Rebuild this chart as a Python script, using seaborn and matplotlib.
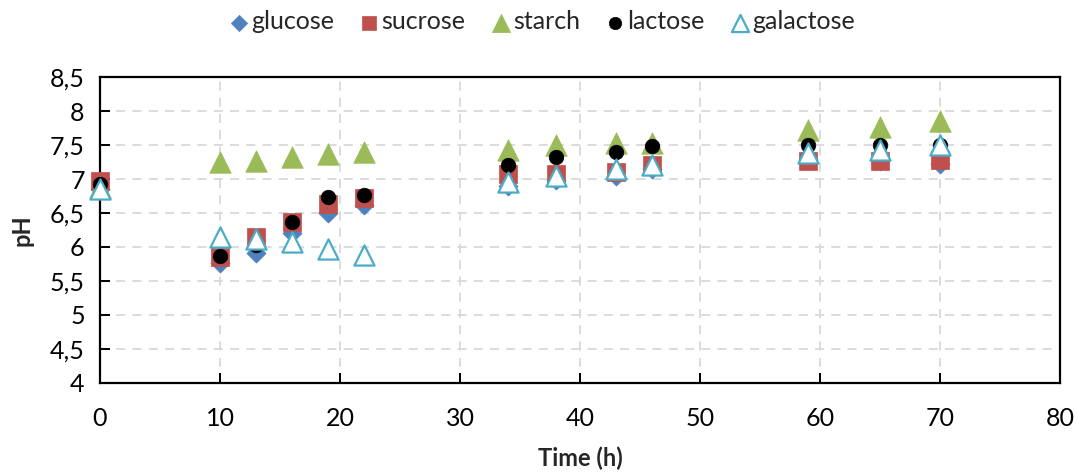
import matplotlib
matplotlib.use("Agg")
import matplotlib.pyplot as plt
import seaborn as sns
import pandas as pd

# Sampling times (h)
time_h = [0, 10, 13, 16, 19, 22, 34, 38, 43, 46, 59, 65, 70]

# pH measured for each carbon source
glucose = [6.85, 5.76, 5.91, 6.20, 6.50, 6.62, 6.90, 6.98, 7.04, 7.15, 7.30, 7.26, 7.22]
sucrose = [6.97, 5.85, 6.14, 6.37, 6.63, 6.72, 7.07, 7.08, 7.10, 7.20, 7.27, 7.27, 7.28]
starch = [6.88, 7.25, 7.27, 7.32, 7.37, 7.40, 7.43, 7.50, 7.53, 7.53, 7.72, 7.77, 7.85]
lactose = [6.92, 5.87, 6.03, 6.37, 6.73, 6.77, 7.20, 7.32, 7.40, 7.48, 7.50, 7.50, 7.50]
galactose = [6.85, 6.15, 6.12, 6.08, 5.97, 5.88, 6.95, 7.05, 7.15, 7.20, 7.38, 7.42, 7.50]

series_names = ["glucose", "sucrose", "starch", "lactose", "galactose"]
series_values = [glucose, sucrose, starch, lactose, galactose]

y_ticks = [4, 4.5, 5, 5.5, 6, 6.5, 7, 7.5, 8, 8.5]
x_ticks = [0, 10, 20, 30, 40, 50, 60, 70, 80]

df = pd.DataFrame({"Time (h)": time_h})
for name, vals in zip(series_names, series_values):
    df[name] = vals

sns.set_theme(style="white")
plt.rcParams["font.family"] = ["Lato", "DejaVu Sans"]

fig = plt.figure(figsize=(10.78, 4.73), dpi=100)
ax = fig.add_axes([100 / 1078, 1 - 383 / 473, 960 / 1078, 306 / 473])

styles = {
    "glucose": dict(marker="D", s=95, color="#4F81BD", edgecolor="#4F81BD"),
    "sucrose": dict(marker="s", s=150, color="#C0504D", edgecolor="#C0504D"),
    "starch": dict(marker="^", s=240, color="#9BBB59", edgecolor="#9BBB59"),
    "lactose": dict(marker="o", s=110, color="black", edgecolor="black"),
    "galactose": dict(marker="^", s=210, facecolors="white", edgecolor="#4BACC6",
                      linewidth=1.6),
}

for name in series_names:
    st = dict(styles[name])
    if name == "galactose":
        ax.scatter(df["Time (h)"], df[name], label=name, zorder=5,
                   clip_on=False, **st)
    else:
        sns.scatterplot(data=df, x="Time (h)", y=name, ax=ax, label=name,
                        zorder=4, linewidth=0.5, clip_on=False, **st)

ax.set_xlim(0, 80)
ax.set_ylim(4, 8.5)
ax.set_xticks(x_ticks)
ax.set_yticks(y_ticks)
ax.set_yticklabels([f"{v:g}".replace(".", ",") for v in y_ticks])
ax.set_xticklabels([str(v) for v in x_ticks])

ax.grid(True, color="#D9D9D9", linestyle=(0, (5, 4)), linewidth=1.3)
ax.set_axisbelow(True)
for sp in ax.spines.values():
    sp.set_color("black")
    sp.set_linewidth(1.6)
ax.tick_params(axis="y", direction="in", length=7, width=1.4, colors="black",
               labelsize=18, pad=11, left=True)
ax.tick_params(axis="x", direction="in", length=7, width=1.4, colors="black",
               labelsize=18, pad=17, bottom=True)

ax.set_xlabel("Time (h)", fontsize=17, fontweight="bold", labelpad=12)
ax.set_ylabel("pH", fontsize=17, fontweight="bold", labelpad=12)

ax.legend(loc="center", bbox_to_anchor=(0.459, 1.18), ncol=5,
          frameon=False, fontsize=18, handlelength=1.0, handletextpad=0.0,
          columnspacing=0.9, markerscale=0.85, borderaxespad=0)

fig.savefig("out.png", dpi=100)
